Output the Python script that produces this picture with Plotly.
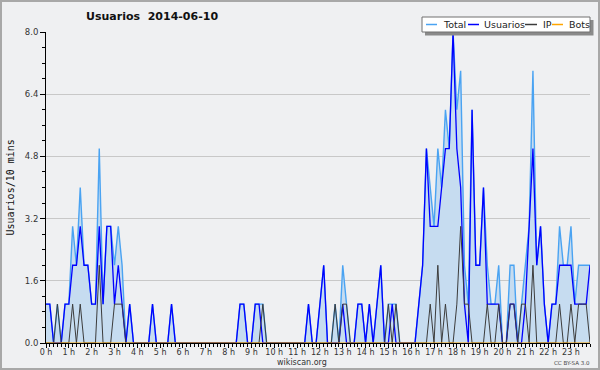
import plotly.graph_objects as go

# 10-minute slots over the day (144 slots)
slot_minutes = [i * 10 for i in range(144)]

usuarios = [1,1,0,0,0,1,1,2,2,3,2,2,1,1,3,1,3,3,1,2,
            1,0,1,0,0,0,0,0,1,0,0,0,0,1,0,0,0,0,0,0,
            0,0,0,0,0,0,0,0,0,0,0,1,1,0,0,1,1,0,0,0,
            0,0,0,0,0,0,0,0,0,1,0,0,1,2,0,0,0,0,1,0,
            0,0,1,1,0,1,0,1,2,0,0,1,0,0,0,0,0,0,1,2,
            5,3,3,3,4,5,5,8,5,4,1,0,6,2,2,4,1,1,1,1,
            0,0,1,1,0,0,1,3,5,2,3,1,0,1,1,2,2,2,2,1,
            1,1,1,2]
ip = [0,0,0,1,0,0,0,1,0,1,0,0,0,0,2,0,0,0,1,1,
      1,0,0,0,0,0,0,0,0,0,0,0,0,0,0,0,0,0,0,0,
      0,0,0,0,0,0,0,0,0,0,0,0,0,0,0,0,0,1,0,0,
      0,0,0,0,0,0,0,0,0,0,0,0,0,0,0,0,1,0,1,1,
      0,0,0,0,0,0,0,0,0,0,1,0,1,0,0,0,0,0,0,0,
      0,1,0,2,0,1,0,0,1,3,1,1,0,0,0,0,1,0,0,1,
      0,0,1,1,0,1,1,0,2,0,0,0,0,0,0,1,0,0,1,0,
      1,1,1,0]
bots = [0] * 144
total = [1,1,0,1,0,1,1,3,2,4,2,2,1,1,5,1,3,3,2,3,
         2,0,1,0,0,0,0,0,1,0,0,0,0,1,0,0,0,0,0,0,
         0,0,0,0,0,0,0,0,0,0,0,1,1,0,0,1,1,1,0,0,
         0,0,0,0,0,0,0,0,0,1,0,0,1,2,0,0,1,0,2,1,
         0,0,1,1,0,1,0,1,2,0,1,1,1,0,0,0,0,0,1,2,
         5,4,3,5,4,6,5,8,6,7,2,1,6,2,2,4,2,1,1,2,
         0,0,2,2,0,1,2,3,7,2,3,1,0,1,1,3,2,2,3,1,
         2,2,2,2]

y_ticks = [0.0, 1.6, 3.2, 4.8, 6.4, 8.0]
series_names = ["Total", "Usuarios", "IP", "Bots"]
series_colors = ["#4aa3f2", "#0000ff", "#3c3c3c", "#ffa500"]

hours = [m / 60 for m in slot_minutes]

L, R, T, B = 46, 10, 32, 27
W, H = 600, 370
PW, PH = W - L - R, H - T - B


def xp(px):
    return (px - L) / PW


def yp(py):
    return (H - B - py) / PH


fig = go.Figure()
fig.add_trace(go.Scatter(x=hours, y=total, mode="lines", name="Total",
                         line=dict(color=series_colors[0], width=1.4),
                         fill="tozeroy", fillcolor="#c6dcf0"))
fig.add_trace(go.Scatter(x=hours, y=usuarios, mode="lines", name="Usuarios",
                         line=dict(color=series_colors[1], width=1.3)))
fig.add_trace(go.Scatter(x=hours, y=ip, mode="lines", name="IP",
                         line=dict(color=series_colors[2], width=1)))
fig.add_trace(go.Scatter(x=hours, y=bots, mode="lines", name="Bots",
                         line=dict(color=series_colors[3], width=1)))

font = "DejaVu Sans"
shapes = []
annotations = []

# figure frame
shapes.append(dict(type="rect", xref="paper", yref="paper",
                   x0=xp(1), x1=xp(599), y0=yp(369), y1=yp(1),
                   line=dict(color="#a8a8a8", width=2), layer="above"))

# manual legend
shapes.append(dict(type="rect", xref="paper", yref="paper",
                   x0=xp(425), x1=xp(593.5), y0=yp(35.5), y1=yp(20),
                   fillcolor="#8a8a8a", line=dict(width=0), layer="above"))
shapes.append(dict(type="rect", xref="paper", yref="paper",
                   x0=xp(422), x1=xp(590), y0=yp(32), y1=yp(17),
                   fillcolor="white", line=dict(color="#707070", width=1), layer="above"))
leg_lines = [(426, 437), (468, 479), (525, 537), (552, 563)]
leg_text_x = [441, 482, 541, 567]
for (a, b), tx, name, col in zip(leg_lines, leg_text_x, series_names, series_colors):
    shapes.append(dict(type="line", xref="paper", yref="paper",
                       x0=xp(a), x1=xp(b), y0=yp(24.5), y1=yp(24.5),
                       line=dict(color=col, width=1.5), layer="above"))
    annotations.append(dict(text=name, xref="paper", yref="paper",
                            x=xp(tx), y=yp(24.5), xanchor="left", yanchor="middle",
                            showarrow=False, font=dict(family=font, size=9.5, color="#222")))

annotations.append(dict(text="<b>Usuarios\u00a0\u00a02014-06-10</b>", xref="paper", yref="paper",
                        x=xp(84), y=yp(16), xanchor="left", yanchor="middle",
                        showarrow=False, font=dict(family=font, size=11, color="#111")))
annotations.append(dict(text="Usuarios/10 mins", xref="paper", yref="paper",
                        x=xp(9.5), y=yp(188), xanchor="center", yanchor="middle",
                        textangle=-90, showarrow=False,
                        font=dict(family="DejaVu Sans Mono", size=10, color="#111")))
annotations.append(dict(text="wikiscan.org", xref="paper", yref="paper",
                        x=xp(302), y=yp(362.5), xanchor="center", yanchor="middle",
                        showarrow=False, borderpad=0,
                        font=dict(family=font, size=8, color="#333")))
annotations.append(dict(text="CC BY-SA 3.0", xref="paper", yref="paper",
                        x=xp(572), y=yp(363.5), xanchor="center", yanchor="middle",
                        showarrow=False, borderpad=0,
                        font=dict(family=font, size=5.5, color="#444")))

fig.update_layout(
    width=W, height=H,
    margin=dict(l=L, r=R, t=T, b=B, pad=0),
    paper_bgcolor="#eff0f2", plot_bgcolor="#eff0f2",
    showlegend=False,
    shapes=shapes, annotations=annotations,
    xaxis=dict(range=[0, hours[-1]], tickmode="linear", tick0=0, dtick=1,
               ticksuffix=" h", ticks="outside", ticklen=4, tickcolor="black",
               ticklabelstandoff=-3,
               showline=True, linecolor="black", linewidth=1,
               showgrid=False, zeroline=False,
               tickfont=dict(family=font, size=8, color="#333"),
               minor=dict(dtick=1 / 6, tick0=0, ticks="outside", ticklen=3,
                          tickcolor="black", showgrid=False)),
    yaxis=dict(range=[0, 8], tickmode="array", tickvals=y_ticks,
               ticktext=[f"{v:.1f}" for v in y_ticks],
               ticks="outside", ticklen=5, tickcolor="black",
               showline=True, linecolor="black", linewidth=1,
               showgrid=True, gridcolor="#c8c8c8", gridwidth=1, zeroline=False,
               tickfont=dict(family=font, size=8.5, color="#333"),
               minor=dict(dtick=0.4, tick0=0, ticks="outside", ticklen=3,
                          tickcolor="black", showgrid=False)),
)

fig.write_html("out.html", config={"displayModeBar": False},
               post_script="document.body.style.margin='0px';document.body.style.background='#eff0f2';")
